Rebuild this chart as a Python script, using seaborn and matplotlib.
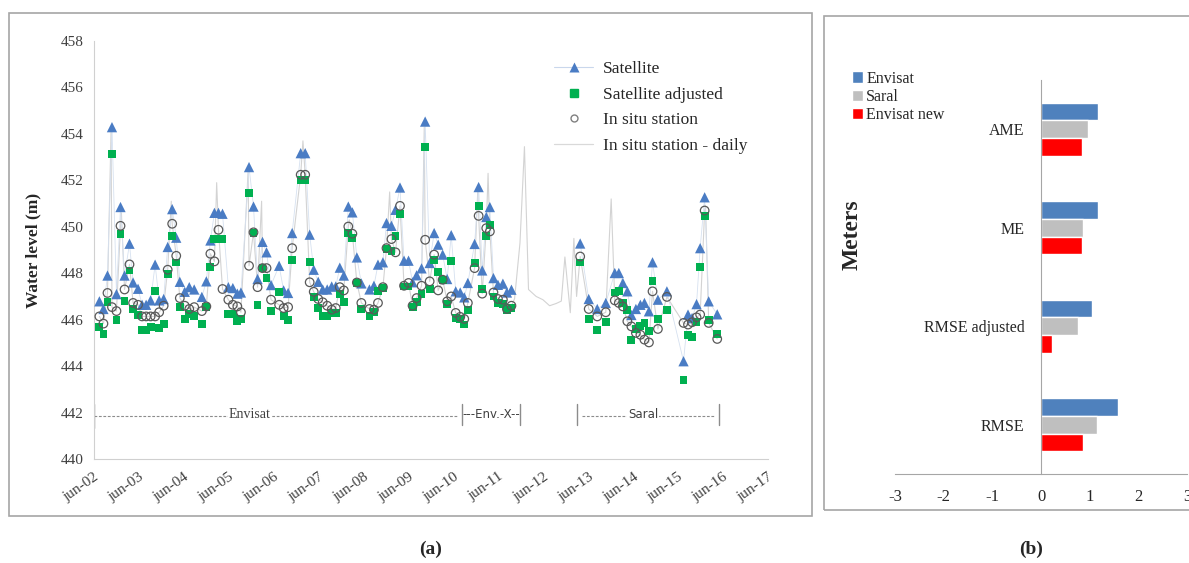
import numpy as np
import pandas as pd
import matplotlib
matplotlib.use('Agg')
import matplotlib.pyplot as plt
from matplotlib.lines import Line2D
from matplotlib.patches import Rectangle
import seaborn as sns

# ---------- panel (a): water level series ----------
# dates as decimal years
dates = [2002.54, 2002.63, 2002.72, 2002.82, 2002.92, 2003.01, 2003.10, 2003.21, 2003.29, 2003.40,
         2003.49, 2003.58, 2003.68, 2003.78, 2003.87, 2003.97, 2004.06, 2004.16, 2004.25, 2004.33,
         2004.44, 2004.54, 2004.65, 2004.82, 2004.92, 2005.01, 2005.10, 2005.19, 2005.28, 2005.41,
         2005.51, 2005.61, 2005.69, 2005.87, 2005.97, 2006.06, 2006.17, 2006.26, 2006.36, 2006.54,
         2006.64, 2006.74, 2006.83, 2007.02, 2007.12, 2007.22, 2007.31, 2007.41, 2007.51, 2007.61,
         2007.71, 2007.80, 2007.89, 2007.98, 2008.08, 2008.17, 2008.27, 2008.37, 2008.55, 2008.65,
         2008.74, 2008.85, 2008.93, 2009.04, 2009.13, 2009.23, 2009.32, 2009.42, 2009.51, 2009.60,
         2009.71, 2009.79, 2009.89, 2009.99, 2010.08, 2010.18, 2010.28, 2010.37, 2010.47, 2010.57,
         2010.66, 2010.74, 2010.89, 2010.98, 2011.06, 2011.15, 2011.23, 2011.31, 2011.41, 2011.52,
         2011.61, 2011.71, 2013.24, 2013.43, 2013.62, 2013.81, 2014.01, 2014.10, 2014.19, 2014.29,
         2014.38, 2014.48, 2014.58, 2014.67, 2014.77, 2014.85, 2014.97, 2015.17, 2015.54, 2015.64,
         2015.73, 2015.83, 2015.91, 2016.01, 2016.10, 2016.29]

satellite = [446.79, 446.46, 447.90, 454.29, 447.10, 450.85, 447.90, 449.27, 447.60, 447.33,
             446.64, 446.64, 446.83, 448.37, 446.83, 446.89, 449.13, 450.76, 449.53, 447.63,
             447.20, 447.40, 447.30, 446.98, 447.65, 449.41, 450.60, 450.60, 450.56, 447.40,
             447.36, 447.12, 447.17, 452.57, 450.87, 447.75, 449.35, 448.90, 447.49, 448.32,
             447.26, 447.15, 449.73, 453.17, 453.17, 449.66, 448.15, 447.63, 447.30, 447.30,
             447.43, 447.43, 448.24, 447.90, 450.87, 450.62, 448.68, 447.56, 447.30, 447.46,
             448.37, 448.47, 450.16, 450.04, 450.73, 451.69, 448.54, 448.54, 447.61, 447.91,
             448.21, 454.53, 448.44, 449.73, 449.23, 448.80, 447.75, 449.64, 447.22, 447.17,
             446.96, 447.58, 449.26, 451.71, 448.12, 450.42, 450.85, 447.79, 447.50, 447.55,
             447.17, 447.29, 449.28, 446.89, 446.46, 446.72, 448.01, 448.01, 447.58, 447.22,
             446.20, 446.46, 446.64, 446.72, 446.36, 448.47, 446.86, 447.22, 444.21, 446.22,
             446.07, 446.67, 449.08, 451.27, 446.79, 446.23]

sat_adjusted = [445.69, 445.40, 446.76, 453.14, 445.97, 449.70, 446.79, 448.12, 446.46, 446.20,
                445.54, 445.54, 445.69, 447.22, 445.64, 445.83, 447.98, 449.61, 448.46, 446.53,
                446.04, 446.26, 446.14, 445.83, 446.54, 448.27, 449.47, 449.47, 449.47, 446.26,
                446.26, 445.93, 446.03, 451.45, 449.73, 446.64, 448.22, 447.79, 446.36, 447.19,
                446.14, 446.00, 448.58, 452.02, 452.02, 448.48, 446.98, 446.50, 446.17, 446.14,
                446.29, 446.29, 447.12, 446.75, 449.73, 449.51, 447.58, 446.46, 446.17, 446.32,
                447.22, 447.36, 449.04, 448.94, 449.61, 450.56, 447.43, 447.43, 446.54, 446.75,
                447.12, 453.43, 447.32, 448.58, 448.06, 447.69, 446.69, 448.51, 446.07, 446.03,
                445.79, 446.43, 448.44, 450.90, 447.32, 449.61, 450.09, 447.00, 446.72, 446.69,
                446.43, 446.50, 448.46, 446.04, 445.57, 445.89, 447.17, 447.23, 446.72, 446.40,
                445.14, 445.60, 445.71, 445.86, 445.50, 447.65, 446.03, 446.40, 443.39, 445.35,
                445.24, 445.89, 448.27, 450.47, 445.97, 445.40]

in_situ = [446.14, 445.83, 447.15, 446.54, 446.37, 450.04, 447.30, 448.38, 446.72, 446.64,
           446.14, 446.14, 446.14, 446.14, 446.32, 446.60, 448.15, 450.13, 448.75, 446.93,
           446.60, 446.46, 446.54, 446.37, 446.57, 448.84, 448.51, 449.87, 447.32, 446.86,
           446.64, 446.57, 446.32, 448.32, 449.76, 447.40, 448.22, 448.22, 446.86, 446.64,
           446.50, 446.54, 449.08, 452.24, 452.24, 447.61, 447.20, 446.89, 446.75, 446.60,
           446.43, 446.50, 447.40, 447.26, 450.01, 449.70, 447.60, 446.72, 446.46, 446.43,
           446.72, 447.40, 449.08, 449.47, 448.90, 450.90, 447.46, 447.58, 446.60, 446.93,
           447.46, 449.44, 447.65, 448.80, 447.26, 447.72, 446.79, 447.00, 446.29, 446.12,
           446.03, 446.72, 448.22, 450.47, 447.12, 449.94, 449.80, 447.17, 446.89, 446.86,
           446.46, 446.60, 448.72, 446.46, 446.14, 446.32, 446.83, 446.72, 446.57, 445.93,
           445.71, 445.43, 445.35, 445.14, 445.02, 447.22, 445.60, 446.98, 445.86, 445.79,
           445.89, 446.10, 446.22, 450.70, 445.86, 445.17]

# extra daily peaks / gap values
daily_extra_t = [2002.80, 2003.03, 2004.14, 2005.15, 2005.85, 2006.15, 2007.07, 2008.10, 2009.00,
                 2009.77, 2010.96, 2011.19, 2011.78, 2011.90, 2012.00, 2012.09, 2012.26, 2012.41,
                 2012.56, 2012.71, 2012.82, 2012.90, 2012.97, 2013.02, 2013.10, 2013.16, 2013.93,
                 2016.03]
daily_extra_v = [454.10, 450.60, 451.10, 451.90, 452.40, 451.10, 453.70, 450.30, 451.50,
                 454.30, 451.50, 452.30, 446.90, 449.30, 453.45, 447.30, 447.00, 446.86,
                 446.60, 446.70, 446.80, 448.70, 447.30, 446.30, 449.50, 447.00, 451.20,
                 450.90]

year_ticks = list(range(2002, 2018))

missions = ['Envisat', '---Env.-X--', 'Saral']
mission_start = [2002.42, 2010.61, 2013.18]
mission_end = [2010.52, 2011.89, 2016.33]
mission_label_x = [2005.89, 2011.25, 2014.64]

# ---------- panel (b): error statistics ----------
metrics = ['AME', 'ME', 'RMSE adjusted', 'RMSE']
envisat_err = [1.18, 1.18, 1.05, 1.59]
saral_err = [0.97, 0.87, 0.77, 1.16]
envisat_new_err = [0.85, 0.85, 0.22, 0.87]

sns.set_style('white')
plt.rcParams['font.family'] = ['Liberation Serif', 'DejaVu Serif']
plt.rcParams['axes.unicode_minus'] = False

fig = plt.figure(figsize=(11.89, 5.63), dpi=100)

# frames around the two panels
fig.patches.append(Rectangle((9 / 1189, 1 - 516 / 563), 803 / 1189, 503 / 563,
                             transform=fig.transFigure, fill=False, ec='#a6a6a6', lw=1.2))
fig.patches.append(Rectangle((824 / 1189, 1 - 510 / 563), 370 / 1189, 494 / 563,
                             transform=fig.transFigure, fill=False, ec='#a6a6a6', lw=1.2))

# ----- left panel -----
ax = fig.add_axes([94 / 1189, 1 - 459 / 563, 674 / 1189, 418 / 563])

df = pd.DataFrame({'t': dates, 'sat': satellite, 'adj': sat_adjusted, 'ins': in_situ})
# satellite line is broken over the 2012 gap
df['seg'] = np.where(df['t'] < 2012.5, 0, 1)
daily = pd.DataFrame({'t': dates + daily_extra_t, 'v': in_situ + daily_extra_v}).sort_values('t')

sns.lineplot(data=daily, x='t', y='v', ax=ax, color='#d3d3d3', lw=0.8, sort=True,
             estimator=None, zorder=1)
sns.lineplot(data=df, x='t', y='sat', units='seg', ax=ax, color='#d6e1f0', lw=0.6,
             estimator=None, zorder=1)
sns.scatterplot(data=df, x='t', y='sat', ax=ax, marker='^', s=55, color='#4a7cc4',
                edgecolor='none', zorder=3)
sns.scatterplot(data=df, x='t', y='adj', ax=ax, marker='s', s=32, color='#00b050',
                edgecolor='none', zorder=4)
sns.scatterplot(data=df, x='t', y='ins', ax=ax, marker='o', s=38, facecolor='none',
                edgecolor='#595959', linewidth=0.9, zorder=5)

ax.set_xlim(2002.42, 2017.42)
ax.set_ylim(440, 458)
ax.set_yticks(np.arange(440, 459, 2))
ax.set_xticks([y + 0.42 for y in year_ticks])
ax.set_xticklabels(['jun-%02d' % (y % 100) for y in year_ticks], rotation=35,
                   ha='right', rotation_mode='anchor')
ax.tick_params(axis='both', labelsize=11, colors='#404040', length=4, width=0.8,
               direction='out', color='#bfbfbf')
ax.tick_params(axis='x', pad=4)
for side in ['top', 'right']:
    ax.spines[side].set_visible(False)
for side in ['left', 'bottom']:
    ax.spines[side].set_color('#d0d0d0')
ax.set_xlabel('')
ax.set_ylabel('Water level (m)', fontsize=12.5, fontweight='bold', labelpad=14)

# mission periods
for name, t0, t1, tx in zip(missions, mission_start, mission_end, mission_label_x):
    if name == 'Envisat':
        ax.plot([t0, t1], [441.85, 441.85], color='#8c8c8c', lw=0.8, ls=(0, (2.5, 1.5)))
        ax.text(tx, 441.9, name, ha='center', va='center', fontsize=10, color='#404040',
                bbox=dict(fc='white', ec='none', pad=0.5))
        ax.plot([t0, t0], [441.35, 442.35], color='#8c8c8c', lw=1)
    elif name == 'Saral':
        ax.plot([t0 + 0.1, t1 - 0.1], [441.85, 441.85], color='#8c8c8c', lw=0.8, ls=(0, (2.5, 1.5)))
        ax.text(tx, 441.9, name, ha='center', va='center', fontsize=8.5, color='#404040',
                family='DejaVu Sans', bbox=dict(fc='white', ec='none', pad=0.5))
        ax.plot([t0, t0], [441.45, 442.35], color='#8c8c8c', lw=1)
        ax.plot([t1, t1], [441.45, 442.35], color='#8c8c8c', lw=1)
    else:
        ax.text(tx, 441.9, name, ha='center', va='center', fontsize=8.5, color='#404040',
                family='DejaVu Sans')
        ax.plot([t0, t0], [441.45, 442.35], color='#8c8c8c', lw=1)
        ax.plot([t1, t1], [441.45, 442.35], color='#8c8c8c', lw=1)

handles = [
    Line2D([], [], color='#c9d7ec', lw=0.8, marker='^', markersize=7, markerfacecolor='#4a7cc4',
           markeredgecolor='none'),
    Line2D([], [], ls='none', marker='s', markersize=5.5, color='#00b050'),
    Line2D([], [], ls='none', marker='o', markersize=5, markerfacecolor='none',
           markeredgecolor='#808080'),
    Line2D([], [], color='#d9d9d9', lw=0.9),
]
ax.legend(handles, ['Satellite', 'Satellite adjusted', 'In situ station', 'In situ station - daily'],
          loc='upper left', bbox_to_anchor=(0.66, 0.99), frameon=False, fontsize=12.5,
          handlelength=2.2, labelspacing=0.55, handletextpad=0.6)

fig.text(431 / 1189, 1 - 549 / 563, '(a)', ha='center', va='center', fontsize=14, fontweight='bold')

# ----- right panel -----
ax2 = fig.add_axes([895 / 1189, 1 - 474 / 563, 292 / 1189, 394 / 563])
err = pd.DataFrame({
    'metric': metrics * 3,
    'value': envisat_err + saral_err + envisat_new_err,
    'series': ['Envisat'] * 4 + ['Saral'] * 4 + ['Envisat new'] * 4,
})
sns.barplot(data=err, x='value', y='metric', hue='series', orient='h', ax=ax2,
            palette=['#4f81bd', '#bfbfbf', '#ff0000'], width=0.54, gap=0, saturation=1)
ax2.set_xlim(-3, 3)
ax2.set_ylim(3.5, -0.5)
ax2.set_xticks(range(-3, 4))
ax2.set_yticks([-0.5, 0.5, 1.5, 2.5, 3.5], minor=True)
ax2.tick_params(axis='y', which='major', length=0, pad=12, labelsize=11.5, colors='#262626')
ax2.tick_params(axis='y', which='minor', length=4, direction='out', color='#a6a6a6')
ax2.tick_params(axis='x', length=5, direction='out', color='#a6a6a6', labelsize=12,
                colors='#262626', pad=6)
ax2.spines['left'].set_position(('data', 0))
for side in ['top', 'right']:
    ax2.spines[side].set_visible(False)
for side in ['left', 'bottom']:
    ax2.spines[side].set_color('#a6a6a6')
ax2.set_xlabel('')
ax2.set_ylabel('')
ax2.legend(loc='upper left', bbox_to_anchor=(-0.17, 1.04), frameon=False, fontsize=11.5,
           handlelength=0.7, handleheight=0.7, handletextpad=0.2, labelspacing=0.15,
           borderaxespad=0)
fig.text(852 / 1189, 1 - 235 / 563, 'Meters', rotation=90, ha='center', va='center',
         fontsize=17, fontweight='bold')
fig.text(1031 / 1189, 1 - 549 / 563, '(b)', ha='center', va='center', fontsize=14, fontweight='bold')

fig.savefig('out.png', dpi=100)
